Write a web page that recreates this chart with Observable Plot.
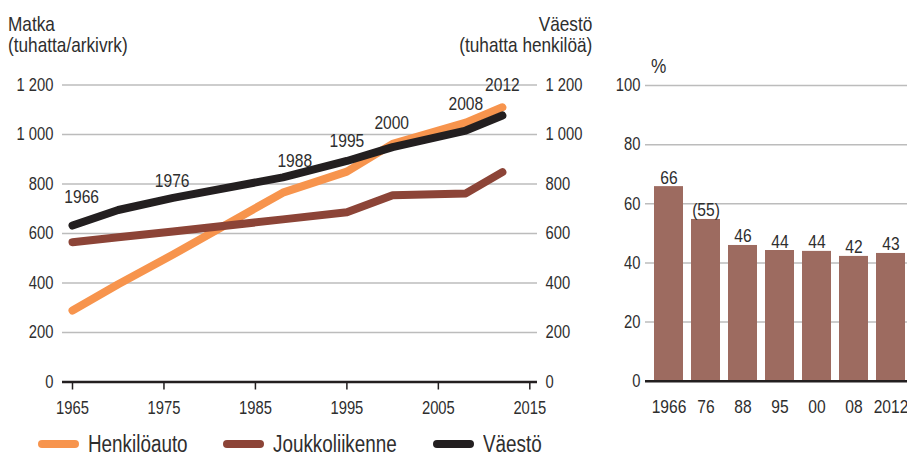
<!DOCTYPE html>
<html><head><meta charset="utf-8">
<script src="https://cdn.jsdelivr.net/npm/d3@7"></script>
<script src="https://cdn.jsdelivr.net/npm/@observablehq/plot@0.6"></script>
<style>
body{margin:0;width:907px;height:455px;overflow:hidden;position:relative;background:#fff;
 font-family:"Liberation Sans",Arial,sans-serif;color:#2e2e2e;}
svg{max-width:none !important;}
.abs{position:absolute;}
.ttl{font-size:21px;line-height:21px;white-space:nowrap;}
.cl{transform:scaleX(0.82);transform-origin:left center;}
.cr{transform:scaleX(0.82);transform-origin:right center;}
.leg{position:absolute;top:433px;height:22px;display:flex;align-items:center;white-space:nowrap;}
.legt{font-size:23px;line-height:22px;display:inline-block;transform:scaleX(0.82);transform-origin:left center;}
.sw{display:inline-block;width:41px;height:8px;border-radius:4px;margin-right:9px;}
</style></head><body>
<div id="left" class="abs" style="left:0;top:0"></div>
<div id="right" class="abs" style="left:600px;top:0;width:314px"></div>
<div class="abs ttl cl" style="left:8px;top:13px">Matka<br>(tuhatta/arkivrk)</div>
<div class="abs ttl cr" style="right:315px;top:13px;text-align:right">Väestö<br>(tuhatta henkilöä)</div>
<div class="abs cl" style="left:651px;top:54px;font-size:21px;line-height:24px">%</div>
<div id="legend"></div>
<script>
// ---- data: left chart ----
const years = [1965, 1970, 1976, 1988, 1995, 2000, 2008, 2012];
const carValues = [289, 395, 515, 765, 850, 962, 1048, 1110];
const transitValues = [565, 585, 608, 657, 686, 755, 762, 848];
const popValues = [632, 695, 744, 827, 893, 949, 1016, 1077];
const seriesNames = ["Henkilöauto", "Joukkoliikenne", "Väestö"];
const seriesColors = ["#f7944d", "#8c4437", "#231f20"];
const yTicks = [0, 200, 400, 600, 800, 1000, 1200];
const xTicks = [1965, 1975, 1985, 1995, 2005, 2015];
const labelTexts = ["1966", "1976", "1988", "1995", "2000", "2008", "2012"];
const labelX = [1966, 1975.9, 1989.3, 1995, 1999.9, 2008, 2012];
const labelY = [749, 814, 895, 976, 1048, 1125, 1202];

// ---- data: right chart ----
const barCats = ["1966", "76", "88", "95", "00", "08", "2012"];
const barValues = [65.8, 54.7, 45.9, 44.2, 43.9, 42.2, 43.2];
const barLabels = ["66", "(55)", "46", "44", "44", "42", "43"];
const pctTicks = [0, 20, 40, 60, 80, 100];

const font = '"Liberation Sans",Arial,sans-serif';
const fmt = d => d3.format(",")(d).replace(/,/g, " ");
const K = 0.82; // horizontal condensing of the sans font

function condense(svg, k) {
  svg.querySelectorAll("text").forEach(t => {
    const spans = t.querySelectorAll("tspan");
    const targets = spans.length ? Array.from(spans) : [t];
    targets.forEach(el => {
      const L = el.getComputedTextLength();
      if (L > 0) {
        el.setAttribute("textLength", (L * k).toFixed(2));
        el.setAttribute("lengthAdjust", "spacingAndGlyphs");
      }
    });
  });
}

const allSeries = [carValues, transitValues, popValues];
const rows = [];
allSeries.forEach((vals, si) => vals.forEach((v, i) => rows.push({series: seriesNames[si], year: years[i], value: v})));
const labelRows = labelTexts.map((t, i) => ({text: t, x: labelX[i], y: labelY[i]}));

const left = Plot.plot({
  width: 600, height: 430,
  marginLeft: 62, marginRight: 63, marginTop: 84.5, marginBottom: 48.5,
  x: {domain: [1963.907, 2015.84]},
  y: {domain: [0, 1200]},
  color: {domain: seriesNames, range: seriesColors},
  style: {fontFamily: font, fontSize: "18px", color: "#2e2e2e", background: "transparent"},
  marks: [
    Plot.ruleY(yTicks.filter(d => d > 0), {stroke: "#bcbcbc", strokeWidth: 1.5}),
    Plot.axisY({ticks: yTicks, tickFormat: fmt, tickSize: 0, tickPadding: 9, anchor: "left", label: null}),
    Plot.axisY({ticks: yTicks, tickFormat: fmt, tickSize: 0, tickPadding: 8, anchor: "right", label: null}),
    Plot.axisX({ticks: xTicks, tickFormat: d => String(d), tickSize: 8, tickPadding: 11, label: null, stroke: "#231f20", strokeWidth: 1.5}),
    Plot.ruleY([0], {stroke: "#231f20", strokeWidth: 2.5}),
    Plot.line(rows, {x: "year", y: "value", z: "series", stroke: "series", strokeWidth: 8, strokeLinecap: "round", strokeLinejoin: "round"}),
    Plot.text(labelRows, {x: "x", y: "y", text: "text", fontSize: 19, fill: "#2e2e2e"})
  ]
});
document.getElementById("left").append(left);
condense(left, K);

const barRows = barCats.map((c, i) => ({cat: c, value: barValues[i], label: barLabels[i]}));
const right = Plot.plot({
  width: 314, height: 430,
  marginLeft: 45, marginRight: 0, marginTop: 85, marginBottom: 49.3,
  x: {domain: barCats, padding: 0.22},
  y: {domain: [0, 100]},
  style: {fontFamily: font, fontSize: "18px", color: "#2e2e2e", background: "transparent"},
  marks: [
    Plot.ruleY(pctTicks.filter(d => d > 0), {stroke: "#bcbcbc", strokeWidth: 1.5}),
    Plot.axisY({ticks: pctTicks, tickSize: 0, tickPadding: 5, label: null}),
    Plot.axisX({tickSize: 0, tickPadding: 18, label: null, fontSize: 19}),
    Plot.barY(barRows, {x: "cat", y: "value", fill: "#9d6b60"}),
    Plot.ruleY([0], {stroke: "#231f20", strokeWidth: 2.5}),
    Plot.text(barRows, {x: "cat", y: "value", text: "label", dy: -3, lineAnchor: "bottom", fontSize: 19, fill: "#2e2e2e"})
  ]
});
document.getElementById("right").append(right);
condense(right, K);

// legend
const legX = [38, 223, 433];
const lg = document.getElementById("legend");
seriesNames.forEach((n, i) => {
  const d = document.createElement("div");
  d.className = "leg";
  d.style.left = legX[i] + "px";
  const s = document.createElement("span");
  s.className = "sw";
  s.style.background = seriesColors[i];
  const t = document.createElement("span");
  t.className = "legt";
  t.textContent = n;
  d.append(s, t);
  lg.append(d);
});
</script>
</body></html>
